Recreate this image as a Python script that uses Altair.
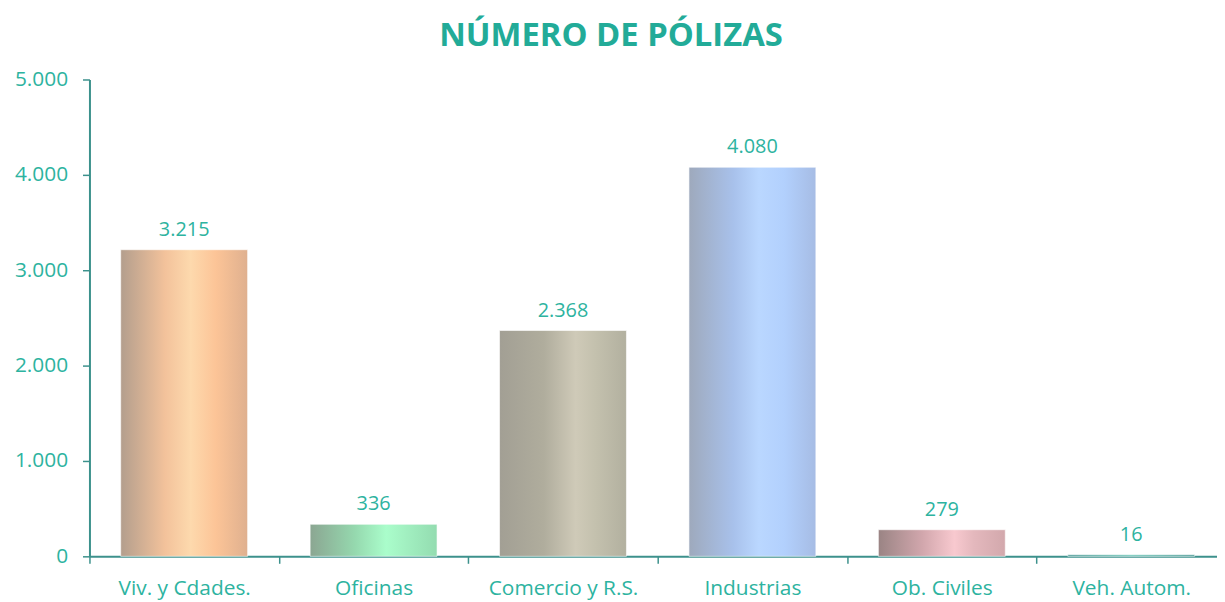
import altair as alt
import pandas as pd

categories = ["Viv. y Cdades.", "Oficinas", "Comercio  y R.S.", "Industrias", "Ob. Civiles", "Veh. Autom."]
values = [3215, 336, 2368, 4080, 279, 16]
y_ticks = [0, 1000, 2000, 3000, 4000, 5000]

# gradient stops (left edge -> highlight -> right edge) for each bar
bar_gradients = [
    [("#b39e8d", 0.0), ("#f3c29b", 0.35), ("#fdd9ad", 0.55), ("#fcc497", 0.75), ("#dfb08f", 1.0)],
    [("#8ba692", 0.0), ("#95d8ae", 0.35), ("#aafdcb", 0.6), ("#a2f0c1", 0.75), ("#93dcb0", 1.0)],
    [("#a29f94", 0.0), ("#b0ad9d", 0.35), ("#cfcab8", 0.6), ("#c4c1ae", 0.75), ("#b2b09f", 1.0)],
    [("#9ea9bc", 0.0), ("#a8c1eb", 0.35), ("#bad7ff", 0.55), ("#b2d0fd", 0.75), ("#a6bce4", 1.0)],
    [("#9a8484", 0.0), ("#d2a7ad", 0.35), ("#f8c9cf", 0.6), ("#e4b8bd", 0.75), ("#d2a8ac", 1.0)],
    [("#3a8f8a", 0.0), ("#5fc0b0", 0.5), ("#3a8f8a", 1.0)],
]

df = pd.DataFrame({"cat": categories, "v": values})

TEAL = "#2db3a0"
AXIS = "#3c918c"
FONT = "Open Sans"

x_enc = alt.X(
    "cat:N",
    sort=categories,
    scale=alt.Scale(domain=categories, paddingInner=0, paddingOuter=0),
    axis=alt.Axis(
        title=None, labelAngle=0, labelFontSize=21, labelColor=TEAL, labelFont=FONT,
        labelPadding=14, tickBand="extent", tickSize=7, tickColor=AXIS, tickWidth=1.5,
        domainColor=AXIS, domainWidth=2, grid=False,
    ),
)
y_enc = alt.Y(
    "v:Q",
    scale=alt.Scale(domain=[0, 5000]),
    axis=alt.Axis(
        title=None, values=y_ticks, labelFontSize=21, labelColor=TEAL, labelFont=FONT,
        labelPadding=15, tickSize=7, tickColor=AXIS, tickWidth=1.5,
        domainColor=AXIS, domainWidth=2, grid=False,
        labelExpr="replace(format(datum.value, ','), ',', '.')",
    ),
)

layers = []
for cat, stops in zip(categories, bar_gradients):
    grad = alt.Gradient(
        gradient="linear",
        stops=[alt.GradientStop(color=c, offset=o) for c, o in stops],
        x1=0, x2=1, y1=0, y2=0,
    )
    layers.append(
        alt.Chart(df)
        .transform_filter(alt.datum.cat == cat)
        .mark_bar(color=grad, width=alt.RelativeBandSize(0.67), stroke="#ffffff", strokeOpacity=0.6, strokeWidth=1)
        .encode(x=x_enc, y=y_enc)
    )

text = (
    alt.Chart(df)
    .transform_calculate(lbl="replace(format(datum.v, ','), ',', '.')")
    .mark_text(dy=-10, baseline="bottom", fontSize=20, color=TEAL, font=FONT)
    .encode(x=x_enc, y=y_enc, text="lbl:N")
)

chart = (
    alt.layer(*layers, text)
    .properties(
        width=1144,
        height=480,
        autosize=alt.AutoSizeParams(type="none"),
        padding={"left": 82, "top": 70, "right": -9, "bottom": 43},
        title=alt.TitleParams(
            "NÚMERO DE PÓLIZAS", fontSize=33, font=FONT, fontWeight="bold",
            color="#22ab98", anchor="middle", dx=-47, offset=16,
        ),
    )
    .configure_view(stroke=None)
)

chart.save("out.html", embed_options={"renderer": "svg", "actions": False})
